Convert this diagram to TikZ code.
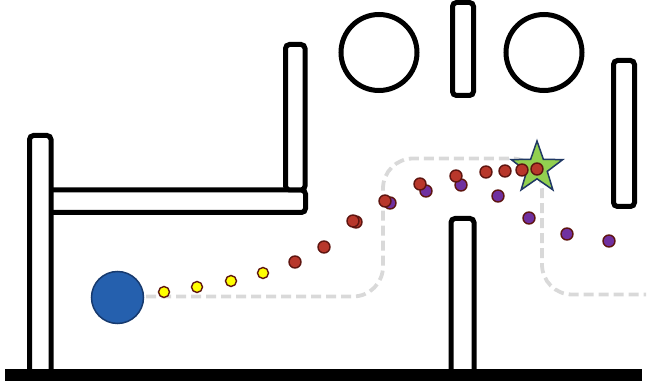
\documentclass[tikz,border=0pt]{standalone}
\usetikzlibrary{shapes.geometric}
\definecolor{Track}{HTML}{D9D9D9}
\definecolor{Ball}{HTML}{2560AE}
\definecolor{BallEdge}{HTML}{173A6E}
\definecolor{Goal}{HTML}{92D050}
\definecolor{GoalEdge}{HTML}{1F3864}
\definecolor{DotEdge}{HTML}{5E1510}
\definecolor{Early}{HTML}{FFFF00}
\definecolor{Mid}{HTML}{B8372B}
\definecolor{Late}{HTML}{7030A0}

\begin{document}
\begin{tikzpicture}[x=1pt,y=-1pt,wall/.style={draw=black,fill=white,line width=5pt,rounded corners=4pt},track/.style={draw=Track,line width=3.8pt,dash pattern=on 10pt off 5pt,rounded corners=30pt},dot/.style={draw=DotEdge,line width=1.4pt}]
\useasboundingbox (0,0) rectangle (649,382);
% walls and obstacles
\draw[wall] (40,190) rectangle (305.5,212.5);
\draw[wall] (29.5,135.5) rectangle (51,376);
\draw[wall] (285.5,44.5) rectangle (305,190);
\draw[wall] (452.5,2.5) rectangle (473.5,95.5);
\draw[wall] (613.5,60.5) rectangle (634.5,206.5);
\draw[wall] (451,218.5) rectangle (474,376);
\draw[black,line width=5pt,fill=white] (379,52.5) circle (38pt);
\draw[black,line width=5pt,fill=white] (544,52.5) circle (38pt);
\fill[black] (5,369) rectangle (642,381);
% planned track
\draw[track] (146,296.5) -| (383,158.5) -| (542,294.5) -- (646,294.5);
% ball and goal
\draw[draw=BallEdge,fill=Ball,line width=1.5pt] (117.5,297.5) circle (26pt);
\node[star,star points=5,star point ratio=2.5,minimum size=54pt,inner sep=0pt,draw=GoalEdge,fill=Goal,line width=1.5pt] (goal) at (537,168) {};
% trajectories
\foreach \px/\py in {390/203,426/191,461/185,498/196,529/218,567/234,609/241}
  \draw[dot,fill=Late] (\px,\py) circle (6pt);
\foreach \px/\py in {295/262,324/247,356/222,353/221,385/201,420/184,456/176,486/172,505/171,522/170,537/169}
  \draw[dot,fill=Mid] (\px,\py) circle (6pt);
\foreach \px/\py in {164/292,197/287,231/281,263/273}
  \draw[dot,fill=Early] (\px,\py) circle (5.5pt);
\end{tikzpicture}
\end{document}
